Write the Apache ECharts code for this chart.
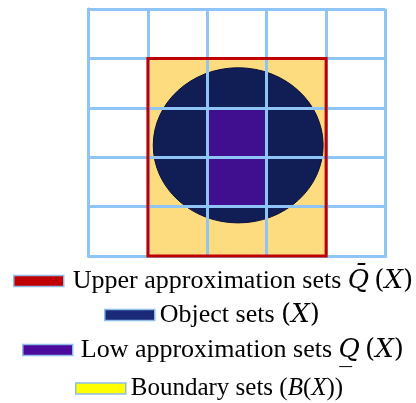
<!DOCTYPE html>
<html><head><meta charset="utf-8">
<script src="https://cdn.jsdelivr.net/npm/echarts@6/dist/echarts.min.js"></script>
<style>html,body{margin:0;padding:0;background:#fff}#c{width:416px;height:403px}</style>
</head><body><div id="c"></div>
<script>
// universe grid: 5 x 5 cells
const gridTicks = [0, 1, 2, 3, 4, 5];
// upper approximation: x from 1 to 4, y from 0 to 4
const upperSet = [[1, 0], [4, 4]];
// lower approximation: x from 2 to 3, y from 1 to 3
const lowerSet = [[2, 1], [3, 3]];
// object set ellipse: center x, center y, radius x, radius y
const objectSet = [[2.52, 2.24, 1.43, 1.57]];
const seriesNames = ['Upper approximation sets', 'Object sets', 'Low approximation sets', 'Boundary sets'];

const chart = echarts.init(document.getElementById('c'), null, {renderer: 'canvas'});
const gridColor = '#8EC4F6';
const font = 'Liberation Serif';

function rectItem(fill, stroke, lw) {
  return function (params, api) {
    const p0 = api.coord([api.value(0), api.value(1)]);
    const p1 = api.coord([api.value(2), api.value(3)]);
    return {
      type: 'rect',
      shape: {x: Math.min(p0[0], p1[0]), y: Math.min(p0[1], p1[1]), width: Math.abs(p1[0] - p0[0]), height: Math.abs(p1[1] - p0[1])},
      style: {fill: fill, stroke: stroke, lineWidth: lw}
    };
  };
}
const rectData = s => [[s[0][0], s[0][1], s[1][0], s[1][1]]];

function makeRich(size) {
  return {
    t: {fontFamily: font, fontSize: size, lineHeight: 28, color: '#000'},
    i: {fontFamily: font, fontSize: size, lineHeight: 28, color: '#000', fontStyle: 'italic'},
    m: {fontFamily: 'DejaVu Serif', fontSize: 26, lineHeight: 28, color: '#000', fontStyle: 'italic'},
    p: {fontFamily: 'DejaVu Serif', fontSize: 26, lineHeight: 28, color: '#000'}
  };
}
const labelText = {
  'Upper approximation sets': '{t|Upper approximation sets }{m|Q\u0304}{p|\u2009(}{m|X}{p|)}',
  'Object sets': '{t|Object sets }{p|(}{m|X}{p|)}',
  'Low approximation sets': '{t|Low approximation sets }{m|Q\u0332}{p|\u2009(}{m|X}{p|)}',
  'Boundary sets': '{t|Boundary sets (}{i|B}{t|(}{i|X}{t|))}'
};
const legendColors = ['#C00000', '#1A2A78', '#4B0A9B', '#FFFF00'];
const legendLeft = [13, 104, 22, 75];
const legendTop = [268, 302, 337, 376];
const legendPad = [4, 0, 3, 0];
const legendSize = [26, 26, 26, 25];

const legends = seriesNames.map((n, i) => ({
  left: legendLeft[i], top: legendTop[i], padding: 0,
  itemWidth: 50, itemHeight: 11, selectedMode: false,
  data: [{name: n, icon: 'rect', itemStyle: {color: legendColors[i], borderColor: '#8DBDE8', borderWidth: 1.5}}],
  formatter: name => labelText[name],
  textStyle: {rich: makeRich(legendSize[i]), padding: [0, 0, 0, legendPad[i]]}
}));

chart.setOption({
  animation: false,
  grid: {left: 88.5, right: 30.5, top: 9, bottom: 147},
  legend: legends,
  xAxis: {type: 'value', min: gridTicks[0], max: gridTicks[gridTicks.length - 1], interval: 1, z: 5,
    axisLabel: {show: false}, axisTick: {show: false},
    axisLine: {show: true, lineStyle: {color: gridColor, width: 3}},
    splitLine: {show: true, lineStyle: {color: gridColor, width: 3}}},
  yAxis: {type: 'value', min: gridTicks[0], max: gridTicks[gridTicks.length - 1], interval: 1, z: 5,
    axisLabel: {show: false}, axisTick: {show: false},
    axisLine: {show: true, lineStyle: {color: gridColor, width: 3}},
    splitLine: {show: true, lineStyle: {color: gridColor, width: 3}}},
  series: [
    {name: seriesNames[3], type: 'custom', z: 1, data: rectData(upperSet), renderItem: rectItem('#FDDC80', null, 0)},
    {name: seriesNames[1], type: 'custom', z: 2, data: objectSet,
      renderItem: function (params, api) {
        const c = api.coord([api.value(0), api.value(1)]);
        const e = api.coord([api.value(0) + api.value(2), api.value(1) + api.value(3)]);
        return {type: 'ellipse', shape: {cx: c[0], cy: c[1], rx: Math.abs(e[0] - c[0]), ry: Math.abs(c[1] - e[1])},
          style: {fill: '#111E56', stroke: '#0A1038', lineWidth: 1}};
      }},
    {name: seriesNames[2], type: 'custom', z: 3, data: rectData(lowerSet), renderItem: rectItem('#3F0F8F', '#6A4FC0', 1)},
    {name: seriesNames[0], type: 'custom', z: 10, data: rectData(upperSet), renderItem: rectItem(null, '#C00000', 3)}
  ]
});
</script></body></html>
